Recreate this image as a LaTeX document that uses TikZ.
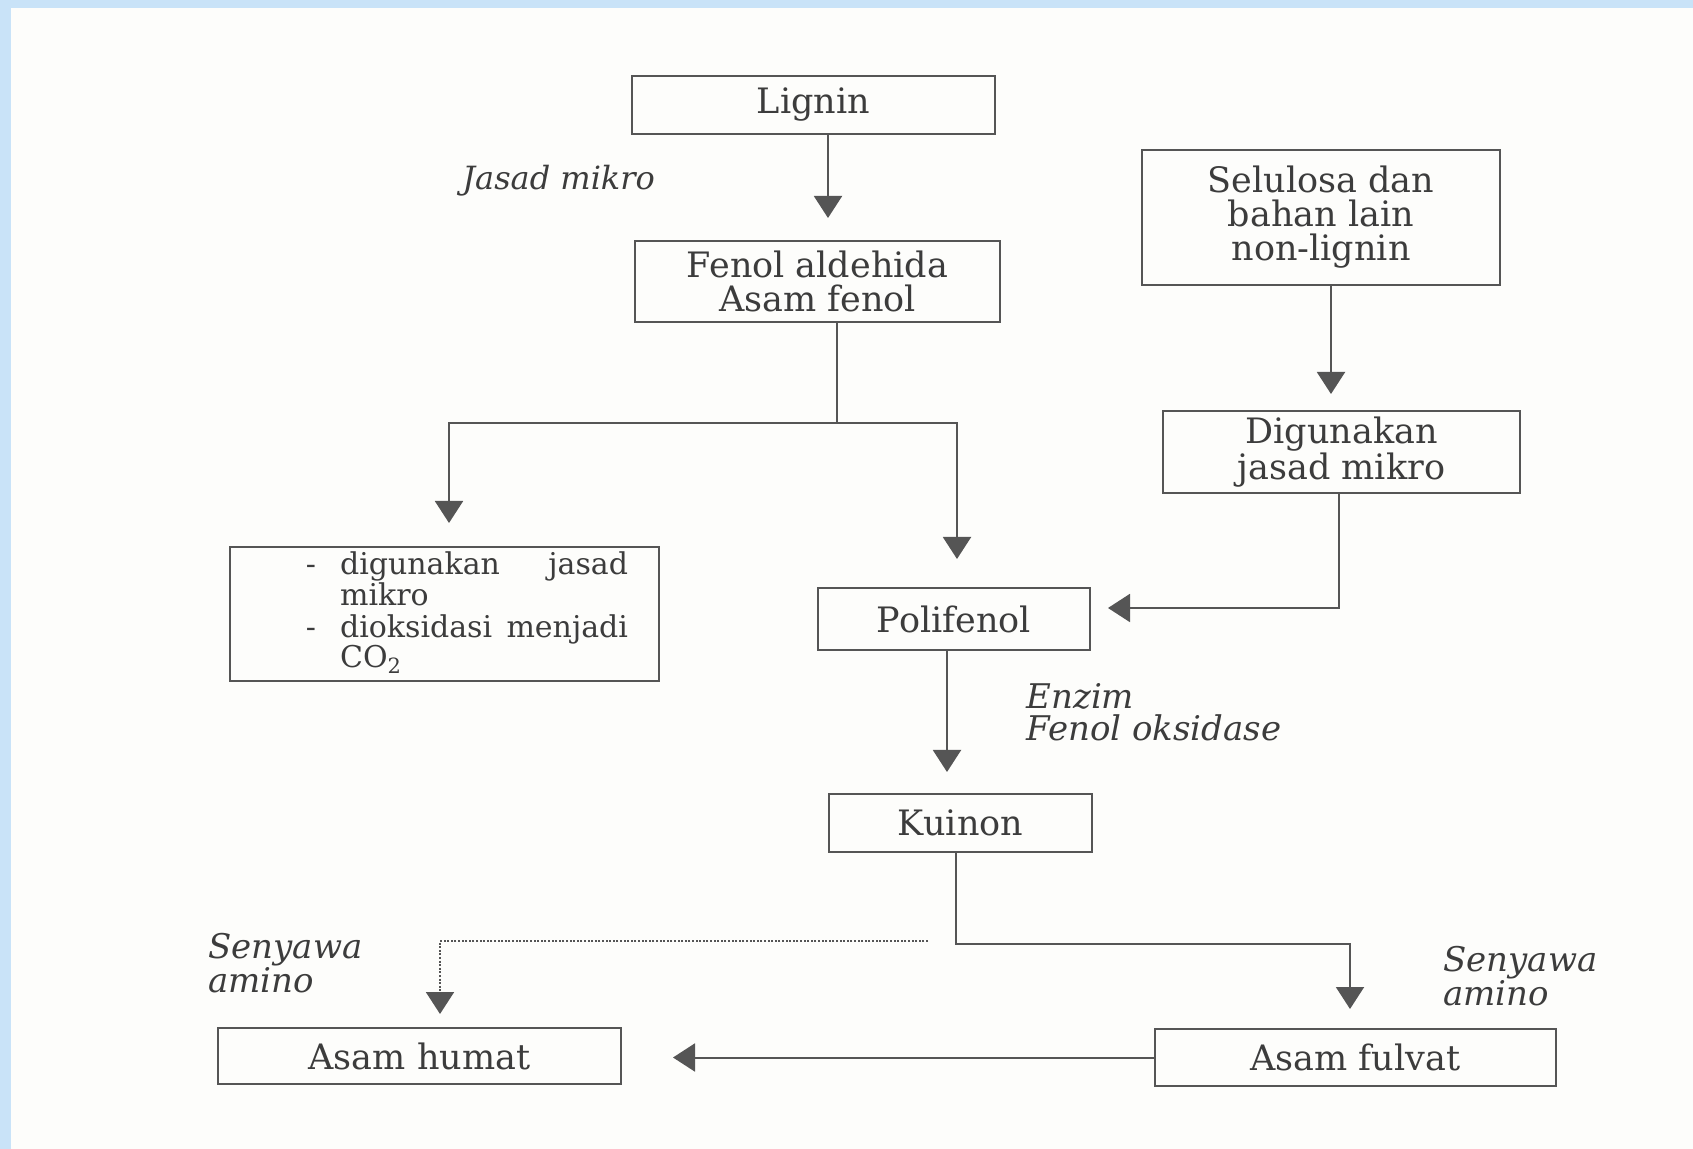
\documentclass[tikz,border=0pt]{standalone}
\usepackage{fontspec}
\setmainfont{DejaVu Serif}
\usetikzlibrary{arrows.meta,calc}
\definecolor{ink}{HTML}{3C3C3C}
\definecolor{linec}{HTML}{555555}
\definecolor{framec}{HTML}{C9E3F8}
\definecolor{paper}{HTML}{FDFDFB}
\begin{document}
\begin{tikzpicture}[x=0.5pt,y=-0.5pt,
  box/.style={draw=linec, line width=1pt, text=ink, inner sep=0pt, align=center,
    font=\fontsize{17.5}{17}\selectfont},
  plain/.style={text=ink, inner sep=0pt, font=\fontsize{15}{14}\selectfont},
  lbl/.style={text=ink, inner sep=0pt, anchor=west, align=left,
    font=\fontsize{17}{16}\selectfont\itshape},
  conn/.style={draw=linec, line width=1pt},
  arr/.style={conn, -{Triangle[width=14pt,length=11pt]}},
  dots/.style={arr, dash pattern=on 1pt off 0.8pt}]
\useasboundingbox (0,0) rectangle (1693,1149);
\fill[framec] (0,0) rectangle (1693,1149);
\fill[paper] (11,8) rectangle (1693,1149);

% boxes
\node[box, minimum width=181.5pt, minimum height=29pt] (lignin) at (813.5,105) {Lignin};
\node[box, minimum width=182.5pt, minimum height=40.5pt] (fenol) at (817.5,281.5) {Fenol aldehida\\Asam fenol};
\node[box, minimum width=214.5pt, minimum height=67pt] (sisa) at (444.5,614) {};
\node[plain] (sisatxt) at (467,614) {\begin{tabular}{@{}l@{\hspace{12pt}}l@{}}
- & \makebox[144pt][s]{digunakan\hfill jasad}\\
  & mikro\\
- & \makebox[144pt][s]{dioksidasi\hfill menjadi}\\
  & CO\textsubscript{2}
\end{tabular}};
\node[box, minimum width=136pt, minimum height=31pt] (poli) at (954,619) {Polifenol};
\node[box, minimum width=179pt, minimum height=67.5pt] (selu) at (1321,217.5) {Selulosa dan\\bahan lain\\non-lignin};
\node[box, minimum width=178.5pt, minimum height=41pt] (digu) at (1341.5,452) {Digunakan\\jasad mikro};
\node[box, minimum width=131.5pt, minimum height=29pt] (kuinon) at (960.5,823) {Kuinon};
\node[box, minimum width=201.5pt, minimum height=28pt] (humat) at (419.5,1056) {Asam humat};
\node[box, minimum width=200.5pt, minimum height=28.5pt] (fulvat) at (1355.5,1057.5) {Asam fulvat};

% labels
\node[lbl, font=\fontsize{16}{16}\selectfont\itshape] (l1) at (462,181) {Jasad mikro};
\node[lbl] (l2) at (1026,712) {Enzim\\Fenol oksidase};
\node[lbl] (l3) at (208,963) {Senyawa\\amino};
\node[lbl] (l4) at (1443,976) {Senyawa\\amino};

% helper coordinates
\coordinate (c1) at (828,0);
\coordinate (j1) at (837,423);
\coordinate (c2) at (449,0);
\coordinate (c3) at (957,0);
\coordinate (c4) at (1331,0);
\coordinate (k5) at (1339,608);
\coordinate (c6) at (947,0);
\coordinate (j2) at (956,944);
\coordinate (c7) at (1350,0);
\coordinate (d1) at (928,941);
\coordinate (c8) at (440,0);

% connectors
\draw[arr, shorten >=11pt] (lignin.south -| c1) -- (fenol.north -| c1);
\draw[conn] (fenol.south -| j1) -- (j1);
\draw[arr, shorten >=11.5pt] (j1) -| (sisa.north -| c2);
\draw[arr, shorten >=14pt] (j1) -| (poli.north -| c3);
\draw[arr, shorten >=8pt] (selu.south -| c4) -- (digu.north -| c4);
\draw[arr, shorten >=8.5pt] (digu.south -| k5) -- (k5) -- (poli.east |- k5);
\draw[arr, shorten >=10.5pt] (poli.south -| c6) -- (kuinon.north -| c6);
\draw[arr, shorten >=9.5pt] (kuinon.south -| j2) -- (j2) -| (fulvat.north -| c7);
\draw[dots, shorten >=6.5pt] (d1) -| (humat.north -| c8);
\draw[arr, shorten >=25.5pt] (fulvat.west) -- (humat.east |- fulvat.west);
\end{tikzpicture}
\end{document}
